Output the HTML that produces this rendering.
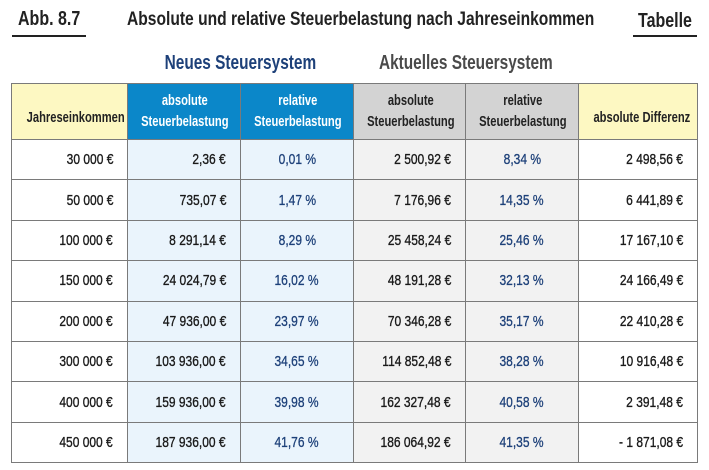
<!DOCTYPE html>
<html><head><meta charset="utf-8">
<style>
*{margin:0;padding:0;box-sizing:border-box}
body{width:709px;height:470px;background:#fff;font-family:"Liberation Sans",sans-serif;position:relative;overflow:hidden;color:#222}
.abs{position:absolute;white-space:nowrap}
.s{display:inline-block;white-space:nowrap;transform:scaleX(.8)}
#abb{left:18px;top:8px;font-size:20px;font-weight:bold;color:#222}
#abb .s,#title .s,#tab .s{transform-origin:left center}
#abbline{left:12px;top:35px;width:74px;height:1.5px;background:#222}
#title{left:127px;top:8px;font-size:19.5px;font-weight:bold;color:#222}
#tab{left:638px;top:10px;font-size:20px;font-weight:bold;color:#222}
#tabline{left:633px;top:35px;width:64px;height:1.5px;background:#222}
#neu,#akt{top:52px;text-align:center;font-size:20px;font-weight:bold}
#neu .s,#akt .s{transform:scaleX(.77)}
#neu{left:127px;width:226px;color:#1d4079}
#akt{left:353px;width:225px;color:#4a4a4a}
table{position:absolute;left:11px;top:83px;border-collapse:collapse;table-layout:fixed;width:686px}
td,th{border:1.5px solid #7a7a7a}
th{height:56px;line-height:21px;text-align:center;font-size:14.5px;font-weight:bold;white-space:nowrap;overflow:hidden}
th .s{transform:scaleX(.77)}
td{height:40.4px;text-align:right;padding-right:14px;font-size:15px;color:#1a1a1a;-webkit-text-stroke:0.35px #1a1a1a;white-space:nowrap}
td .s{transform-origin:right center}
.y{background:#fdf8c2;color:#222}
th.y{padding-top:14px}
.b{background:#0b87c9;color:#fff}
.g{background:#d3d3d3;color:#222}
.lb{background:#eaf4fc}
.lg{background:#f2f2f2}
td.bt{color:#1d4079;text-align:center;padding-right:0;-webkit-text-stroke:0.3px #1d4079}
td.bt .s{transform-origin:center}
</style></head>
<body>
<div class="abs" id="abb"><span class="s">Abb. 8.7</span></div>
<div class="abs" id="abbline"></div>
<div class="abs" id="title"><span class="s">Absolute und relative Steuerbelastung nach Jahreseinkommen</span></div>
<div class="abs" id="tab"><span class="s">Tabelle</span></div>
<div class="abs" id="tabline"></div>
<div class="abs" id="neu"><span class="s">Neues Steuersystem</span></div>
<div class="abs" id="akt"><span class="s">Aktuelles Steuersystem</span></div>
<table>
<colgroup><col style="width:116px"><col style="width:113px"><col style="width:113px"><col style="width:112px"><col style="width:113px"><col style="width:119px"></colgroup>
<thead><tr>
<th class="y"><span class="s">Jahreseinkommen</span></th>
<th class="b"><span class="s">absolute<br>Steuerbelastung</span></th>
<th class="b"><span class="s">relative<br>Steuerbelastung</span></th>
<th class="g"><span class="s">absolute<br>Steuerbelastung</span></th>
<th class="g"><span class="s">relative<br>Steuerbelastung</span></th>
<th class="y"><span class="s">absolute Differenz</span></th>
</tr></thead>
<tbody id="tb"></tbody>
</table>
<script>
const incomes=["30 000 €","50 000 €","100 000 €","150 000 €","200 000 €","300 000 €","400 000 €","450 000 €"];
const newAbs=["2,36 €","735,07 €","8 291,14 €","24 024,79 €","47 936,00 €","103 936,00 €","159 936,00 €","187 936,00 €"];
const newRel=["0,01 %","1,47 %","8,29 %","16,02 %","23,97 %","34,65 %","39,98 %","41,76 %"];
const curAbs=["2 500,92 €","7 176,96 €","25 458,24 €","48 191,28 €","70 346,28 €","114 852,48 €","162 327,48 €","186 064,92 €"];
const curRel=["8,34 %","14,35 %","25,46 %","32,13 %","35,17 %","38,28 %","40,58 %","41,35 %"];
const diffs=["2 498,56 €","6 441,89 €","17 167,10 €","24 166,49 €","22 410,28 €","10 916,48 €","2 391,48 €","- 1 871,08 €"];
const tb=document.getElementById('tb');
const cols=[[incomes,'','income-cell'],[newAbs,'lb','new-absolute-cell'],[newRel,'lb bt','new-relative-cell'],[curAbs,'lg','current-absolute-cell'],[curRel,'lg bt','current-relative-cell'],[diffs,'','difference-cell']];
for(let i=0;i<incomes.length;i++){
  const tr=document.createElement('tr');
  
  
  for(const c of cols){
    const td=document.createElement('td');
    td.className=c[1];
    const sp=document.createElement('span');
    sp.className='s';
    sp.textContent=c[0][i];
    td.appendChild(sp);
    
    
    tr.appendChild(td);
  }
  tb.appendChild(tr);
}
</script>
</body></html>
